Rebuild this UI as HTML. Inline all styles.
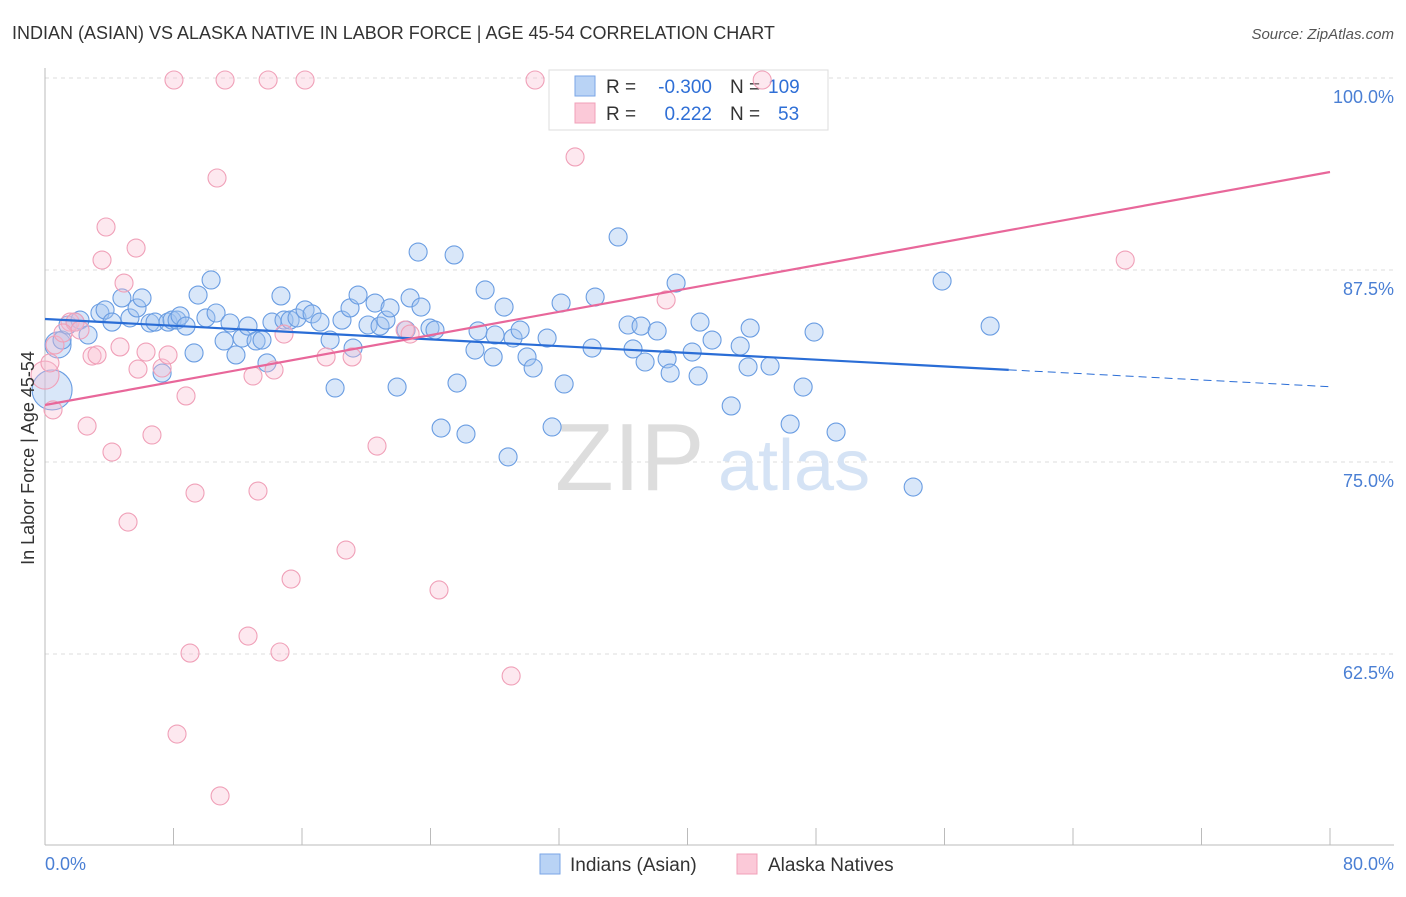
<!DOCTYPE html>
<html><head><meta charset="utf-8"><style>
body{margin:0;background:#fff;font-family:"Liberation Sans",sans-serif}
svg text{font-family:"Liberation Sans",sans-serif}
</style></head><body>
<svg id="c" width="1406" height="892">
<text x="12" y="39" font-size="18" fill="#333">INDIAN (ASIAN) VS ALASKA NATIVE IN LABOR FORCE | AGE 45-54 CORRELATION CHART</text>
<text x="1394" y="39" font-size="15" fill="#555" font-style="italic" text-anchor="end">Source: ZipAtlas.com</text>
<g id="grid"></g>
<g id="ticks"></g>
<text x="555" y="490" font-size="96" fill="#ddd" font-family="Liberation Serif">ZIP</text>
<text x="718" y="490" font-size="72" fill="#d5e3f5">atlas</text>
<g>
<rect x="549" y="70" width="279" height="60" fill="#fff" stroke="#ddd"/>
<rect x="575" y="76" width="20" height="20" fill="#b9d3f5" stroke="#7aa6e6"/>
<rect x="575" y="103" width="20" height="20" fill="#fbc9d8" stroke="#f0a0b8"/>
<text x="606" y="93" font-size="19" fill="#333">R =</text>
<text x="712" y="93" font-size="19" fill="#2f6fd6" text-anchor="end">-0.300</text>
<text x="730" y="93" font-size="19" fill="#333">N =</text>
<text x="768" y="93" font-size="19" fill="#2f6fd6">109</text>
<text x="606" y="120" font-size="19" fill="#333">R =</text>
<text x="712" y="120" font-size="19" fill="#2f6fd6" text-anchor="end">0.222</text>
<text x="730" y="120" font-size="19" fill="#333">N =</text>
<text x="778" y="120" font-size="19" fill="#2f6fd6">53</text>
</g>
<g id="pts"></g>
<g id="lines"></g>
<text transform="translate(34,458) rotate(-90)" font-size="18" fill="#333" text-anchor="middle">In Labor Force | Age 45-54</text>
<text x="45" y="870" font-size="18" fill="#4a7fd4">0.0%</text>
<text x="1394" y="870" font-size="18" fill="#4a7fd4" text-anchor="end">80.0%</text>
<g>
<rect x="540" y="854" width="20" height="20" fill="#b9d3f5" stroke="#7aa6e6"/>
<text x="570" y="871" font-size="19" fill="#333">Indians (Asian)</text>
<rect x="737" y="854" width="20" height="20" fill="#fbc9d8" stroke="#f0a0b8"/>
<text x="768" y="871" font-size="19" fill="#333">Alaska Natives</text>
</g>
</svg>
<script>
const yTicks=[100,87.5,75,62.5];
const yTickLabels=["100.0%","87.5%","75.0%","62.5%"];
const xTicks=[0,8,16,24,32,40,48,56,64,72,80];
const blueX=[0.44,0.81,1.06,1.43,1.87,2.18,2.68,3.42,3.74,4.17,4.79,5.29,5.73,6.04,6.54,6.85,7.29,7.66,7.91,8.22,8.41,8.78,9.28,9.53,10.02,10.34,10.65,11.15,11.52,11.89,12.27,12.64,13.14,13.51,13.82,14.13,14.69,14.88,15.26,15.69,16.19,16.63,17.12,17.75,18.06,18.49,18.99,19.18,19.49,20.11,20.55,20.86,21.23,21.48,21.92,22.48,22.73,23.23,23.41,23.97,24.28,24.66,25.47,25.65,26.21,26.77,26.96,27.40,27.90,28.02,28.58,28.83,29.14,29.58,30.01,30.39,31.26,31.57,32.13,32.32,34.06,34.25,35.68,36.30,36.61,37.11,37.36,38.11,38.73,38.92,39.29,40.29,40.78,40.66,41.53,42.72,43.28,43.77,43.90,45.14,46.39,47.20,47.88,49.25,54.05,55.85,58.84];
const blueY=[79.69,82.62,82.94,83.92,84.11,84.24,83.27,84.70,84.90,84.11,85.68,84.38,85.03,85.68,84.05,84.11,80.79,84.11,84.24,84.24,84.51,83.85,82.10,85.87,84.38,86.85,84.70,82.88,84.05,81.97,83.07,83.85,82.88,82.94,81.45,84.11,85.81,84.24,84.24,84.38,84.90,84.64,84.11,82.94,79.82,84.24,85.03,82.42,85.87,83.92,85.35,83.85,84.24,85.03,79.88,83.59,85.68,88.67,85.09,83.72,83.59,77.21,88.48,80.14,76.82,82.29,83.53,86.20,81.84,83.27,85.09,75.33,83.07,83.59,81.84,81.12,83.07,77.28,85.35,80.08,82.42,85.74,89.65,83.92,82.36,83.85,81.51,83.53,81.71,80.79,86.65,82.16,84.11,80.60,82.94,78.65,82.55,81.19,83.72,81.25,77.47,79.88,83.46,76.95,73.37,86.78,83.85];
const pinkX=[0,0.31,0.50,1.56,1.87,2.18,2.62,2.93,3.24,3.55,3.80,4.17,4.67,4.92,5.17,5.67,5.79,6.29,6.66,7.29,7.66,8.03,8.22,8.78,9.03,9.34,10.71,10.90,11.21,12.64,12.95,13.26,13.89,14.26,14.63,14.88,15.32,16.19,17.50,18.74,19.12,20.67,22.42,22.73,24.53,29.02,30.51,33.00,38.67,44.65,67.25,0.62,1.12];
const pinkY=[80.66,81.45,78.39,84.11,84.11,83.59,77.34,81.90,81.97,88.15,90.30,75.65,82.49,86.65,71.09,88.93,81.05,82.16,76.76,81.12,81.97,99.87,57.29,79.30,62.56,72.98,93.49,53.26,99.87,63.67,80.60,73.11,99.87,80.99,62.63,83.33,67.38,99.87,81.84,69.27,81.84,76.04,83.59,83.33,66.67,61.07,99.87,94.86,85.55,99.87,88.15,82.62,83.40];
const blueTrend=[84.31,81.0,79.9]; // at x=0, 60, 80
const pinkTrend=[78.71,93.88]; // at x=0, 80
const X=v=>45+v*1285/80;
const Y=v=>78+(100-v)*15.36;
const NS="http://www.w3.org/2000/svg";
function mk(t,a,p){const e=document.createElementNS(NS,t);for(const k in a)e.setAttribute(k,a[k]);p.appendChild(e);return e;}
const g=document.getElementById('grid');
yTicks.forEach((t,i)=>{
 const l=mk('line',{x1:45,x2:1394,y1:Y(t),y2:Y(t),stroke:'#ddd','stroke-dasharray':'4,4'},g);
 
 
 const tx=mk('text',{x:1394,y:Y(t)+25,'font-size':18,fill:'#4a7fd4','text-anchor':'end'},g);
 tx.textContent=yTickLabels[i];
 
 
});
mk('line',{x1:45,x2:45,y1:68,y2:845,stroke:'#bbb'},g);
mk('line',{x1:45,x2:1394,y1:845,y2:845,stroke:'#bbb'},g);
const tk=document.getElementById('ticks');
xTicks.forEach(t=>{const l=mk('line',{x1:X(t),x2:X(t),y1:828,y2:845,stroke:'#bbb'},tk);
 
 });
const pg=document.getElementById('pts');
blueX.forEach((x,i)=>{const c=mk('circle',{cx:X(x),cy:Y(blueY[i]),r:i==0?20:(i<2?13:9),fill:'rgba(160,196,240,0.4)',stroke:'#6a9de2','stroke-width':1.1},pg);
 
 });
pinkX.forEach((x,i)=>{const c=mk('circle',{cx:X(x),cy:Y(pinkY[i]),r:i==0?14:9,fill:'rgba(248,190,208,0.35)',stroke:'#f0a0b8','stroke-width':1.1},pg);
 
 });
const lg=document.getElementById('lines');
const b1=mk('line',{x1:X(0),y1:Y(blueTrend[0]),x2:X(60),y2:Y(blueTrend[1]),stroke:'#2a6dd6','stroke-width':2.2},lg);


const b2=mk('line',{x1:X(60),y1:Y(blueTrend[1]),x2:X(80),y2:Y(blueTrend[2]),stroke:'#2a6dd6','stroke-width':1,'stroke-dasharray':'8,5'},lg);


const p1=mk('line',{x1:X(0),y1:Y(pinkTrend[0]),x2:X(80),y2:Y(pinkTrend[1]),stroke:'#e8679a','stroke-width':2.2},lg);


</script>
</body></html>
